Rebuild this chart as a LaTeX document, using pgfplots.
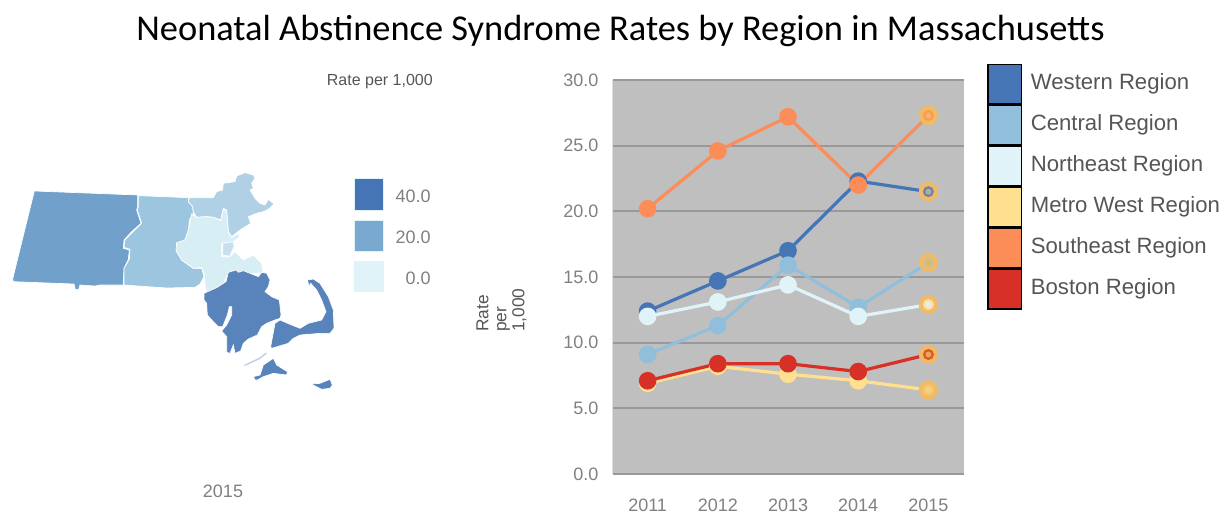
\documentclass[border=0pt]{standalone}
\usepackage{pgfplots}
\pgfplotsset{compat=1.18}
\usepackage{pgfplotstable}
\usepackage{fontspec}
\setmainfont{Liberation Sans}
\newfontfamily\titlefont{Carlito}

\definecolor{cW}{HTML}{4575B4}
\definecolor{cC}{HTML}{91BFDB}
\definecolor{cN}{HTML}{E0F3F8}
\definecolor{cM}{HTML}{FEE090}
\definecolor{cS}{HTML}{FC8D59}
\definecolor{cB}{HTML}{D73027}
\definecolor{ringc}{HTML}{F2BA62}
\definecolor{tickgray}{HTML}{808080}
\definecolor{txtgray}{HTML}{555555}
% ring and centre of the highlighted 2015 points
\definecolor{rW}{HTML}{6C86A8}\definecolor{mW}{HTML}{B5AB99}
\definecolor{rC}{HTML}{C4C2A6}\definecolor{mC}{HTML}{E5B55F}
\definecolor{rN}{HTML}{F3E0B0}\definecolor{mN}{HTML}{EFEBDD}
\definecolor{rM}{HTML}{F5C876}\definecolor{mM}{HTML}{F6CF80}
\definecolor{rS}{HTML}{FB9A55}\definecolor{mS}{HTML}{F2B56A}
\definecolor{rB}{HTML}{DE5630}\definecolor{mB}{HTML}{EFA558}

% values per region
\pgfplotstableread{
year W C N M S B
2011 12.4 9.1 12.0 6.9 20.2 7.1
2012 14.7 11.3 13.1 8.2 24.6 8.4
2013 17.0 15.9 14.4 7.6 27.2 8.4
2014 22.3 12.7 12.0 7.1 22.0 7.8
2015 21.5 16.1 12.9 6.4 27.3 9.1
}\rates

\pgfplotsset{
  ser/.style={color=#1, line width=2.4pt, mark=*, mark size=5.4pt,
    mark options={draw=none, fill=#1}},
  swatch/.style={legend image code/.code={
    \draw[black, line width=1pt, fill=#1] (0pt,-16pt) rectangle (25pt,13.75pt);
    \path (26.5pt,0pt);}},
  reg/.style={fill=#1, draw=white, line width=0.5pt, no markers, forget plot},
  dot/.style={only marks, forget plot, color=#1, mark=*, mark options={draw=none, fill=#1}},
}
% the ringed last point of a series: value, ring colour, centre colour
\newcommand{\hl}[3]{%
  \addplot[dot=ringc, mark size=7pt] coordinates {(2015,#1)};
  \addplot[dot=#2, mark size=3.9pt] coordinates {(2015,#1)};
  \addplot[dot=#3, mark size=2pt] coordinates {(2015,#1)};
}

\begin{document}
\begin{tikzpicture}
\useasboundingbox (0,0) rectangle (918.75pt,385.5pt);

\node[font=\titlefont\fontsize{27.3}{30}\selectfont, anchor=center, inner sep=0] at (465.4pt,362.5pt)
  {Neonatal Abstinence Syndrome Rates by Region in Massachusetts};

% map, coordinates in 1/3 pixels from the top left corner of the map area
\begin{axis}[
  at={(0pt,0pt)}, anchor=south west, scale only axis,
  width=918.75pt, height=340.5pt,
  xmin=0, xmax=3675, ymin=0, ymax=1362, y dir=reverse,
  hide axis, clip=false]
\addplot[reg=cW!42!cC] coordinates {(103,393)(413,405)(413,440)(410,450)(423,490)(395,515)(372,540)(370,565)(388,570)(385,598)(372,625)(370,675)(300,675)(285,678)(240,675)(236,688)(226,688)(222,672)(40,665)(38,657)} --cycle;
\addplot[reg=cC!90!white] coordinates {(415,407)(565,413)(565,425)(578,440)(580,460)(568,480)(565,515)(555,540)(530,550)(530,575)(545,600)(580,625)(605,625)(612,650)(600,672)(585,682)(500,684)(372,675)(372,625)(388,598)(390,568)(372,562)(375,540)(425,490)(412,450)(415,440)} --cycle;
\addplot[reg=cC!72!white] coordinates {(568,413)(640,413)(650,395)(668,390)(670,370)(705,365)(710,348)(735,338)(760,345)(765,355)(755,370)(760,385)(750,390)(765,415)(780,430)(795,435)(805,418)(822,432)(805,448)(790,455)(770,460)(745,470)(752,490)(720,510)(695,530)(685,515)(680,450)(670,445)(662,480)(640,472)(620,470)(590,472)(580,455)(578,440)(565,425)} --cycle;
\addplot[reg=cN!90!cC] coordinates {(575,462)(590,472)(620,470)(640,472)(662,482)(670,448)(680,452)(685,517)(695,532)(715,520)(720,530)(700,545)(665,550)(665,590)(690,590)(705,575)(730,600)(760,585)(785,610)(790,640)(770,640)(750,640)(715,640)(680,650)(675,660)(670,680)(620,700)(615,670)(612,640)(605,622)(580,625)(545,600)(528,572)(530,548)(555,540)(565,510)} --cycle;
\addplot[reg=cC!50!white] coordinates {(668,550)(700,545)(702,560)(690,588)(668,586)} --cycle;
\addplot[reg=cW!90!white] coordinates {(612,700)(650,683)(678,665)(685,637)(708,630)(715,637)(730,632)(750,640)(775,650)(785,637)(800,640)(810,660)(805,680)(795,695)(815,710)(838,720)(843,765)(840,775)(825,780)(800,790)(785,800)(772,825)(745,837)(730,850)(722,873)(705,880)(700,855)(690,880)(680,877)(680,830)(665,813)(680,795)(695,765)(695,740)(688,740)(682,765)(668,800)(655,800)(640,785)(622,765)(620,730)(612,720)} --cycle;
\addplot[reg=cW!90!white] coordinates {(922,660)(940,657)(960,670)(985,710)(1000,750)(1002,805)(990,820)(960,820)(925,823)(900,825)(880,835)(865,850)(815,865)(812,860)(825,790)(840,780)(870,793)(900,805)(925,790)(965,780)(978,755)(965,720)(950,690)(935,673)(932,670)(928,680)} --cycle;
\addplot[reg=cW!90!white] coordinates {(760,950)(780,945)(790,915)(820,895)(830,915)(862,935)(860,945)(820,940)(790,950)(772,960)(765,960)} --cycle;
\addplot[reg=cW!90!white] coordinates {(933,972)(960,970)(990,958)(997,975)(990,985)(965,988)} --cycle;
\addplot[fill=cW!35!white, draw=none, no markers, forget plot] coordinates {(732,915)(780,892)(797,878)(800,881)(780,897)(735,918)} --cycle;
% colour key of the map
\addplot[fill=cW, draw=cN, line width=0.5pt, no markers, forget plot] coordinates {(1063,356)(1150,356)(1150,452)(1063,452)} --cycle;
\addplot[fill=cC!70!cW, draw=cN, line width=0.5pt, no markers, forget plot] coordinates {(1063,480)(1150,480)(1150,575)(1063,575)} --cycle;
\addplot[fill=cN, draw=cN, line width=0.5pt, no markers, forget plot] coordinates {(1063,603)(1150,603)(1150,695)(1063,695)} --cycle;
\node[font=\fontsize{13.5}{16}\selectfont, text=tickgray, anchor=east, inner sep=0] at (axis cs:1293,410) {40.0};
\node[font=\fontsize{13.5}{16}\selectfont, text=tickgray, anchor=east, inner sep=0] at (axis cs:1293,533) {20.0};
\node[font=\fontsize{13.5}{16}\selectfont, text=tickgray, anchor=east, inner sep=0] at (axis cs:1293,656) {0.0};
\node[font=\fontsize{12}{14}\selectfont, text=txtgray, anchor=east, inner sep=0] at (axis cs:1299,64) {Rate per 1,000};
\node[font=\fontsize{13.5}{16}\selectfont, text=tickgray, anchor=center, inner sep=0] at (axis cs:669,1293) {2015};
\end{axis}

% line chart
\begin{axis}[
  at={(459.4pt,30pt)}, anchor=south west, scale only axis,
  width=263.25pt, height=295.5pt,
  xmin=2010.5, xmax=2015.5, ymin=0, ymax=30,
  xtick={2011,2012,2013,2014,2015}, ytick={0,5,10,15,20,25,30},
  axis background/.style={fill=black!25},
  ymajorgrids, grid style={color=black!40, line width=1.5pt},
  axis line style={draw=none}, major tick length=0pt,
  /pgf/number format/assume math mode=true,
  tick label style={font=\fontsize{13.5}{16}\selectfont, text=tickgray},
  xticklabel style={/pgf/number format/1000 sep={}, yshift=-15pt},
  yticklabel style={/pgf/number format/fixed, /pgf/number format/fixed zerofill, /pgf/number format/precision=1, xshift=-7pt},
  ylabel={Rate\\per\\1,000},
  ylabel style={at={(axis description cs:-0.316,0.36)}, anchor=west, align=left, inner sep=0,
    font=\fontsize{13}{13.5}\selectfont, text=txtgray},
  legend cell align=left,
  legend style={at={(axis description cs:1.0669,1.0418)}, anchor=north west, draw=none, fill=none,
    inner sep=0pt, row sep=0pt, font=\fontsize{16.6}{18}\selectfont, text=txtgray,
    nodes={inner sep=0pt, inner xsep=4.5pt}},
]
\draw[black!35, line width=1pt] (rel axis cs:0,0) -- (rel axis cs:0,1);
\addplot[ser=cW, swatch=cW] table[y=W] {\rates};
\addplot[ser=cC, swatch=cC] table[y=C] {\rates};
\addplot[ser=cN, swatch=cN] table[y=N] {\rates};
\addplot[ser=cM, swatch=cM] table[y=M] {\rates};
\addplot[ser=cS, swatch=cS] table[y=S] {\rates};
\addplot[ser=cB, swatch=cB] table[y=B] {\rates};
\legend{Western Region, Central Region, Northeast Region, Metro West Region, Southeast Region, Boston Region}
\hl{21.5}{rW}{mW}
\hl{16.1}{rC}{mC}
\hl{12.9}{rN}{mN}
\hl{6.4}{rM}{mM}
\hl{27.3}{rS}{mS}
\hl{9.1}{rB}{mB}
\end{axis}
\end{tikzpicture}
\end{document}
